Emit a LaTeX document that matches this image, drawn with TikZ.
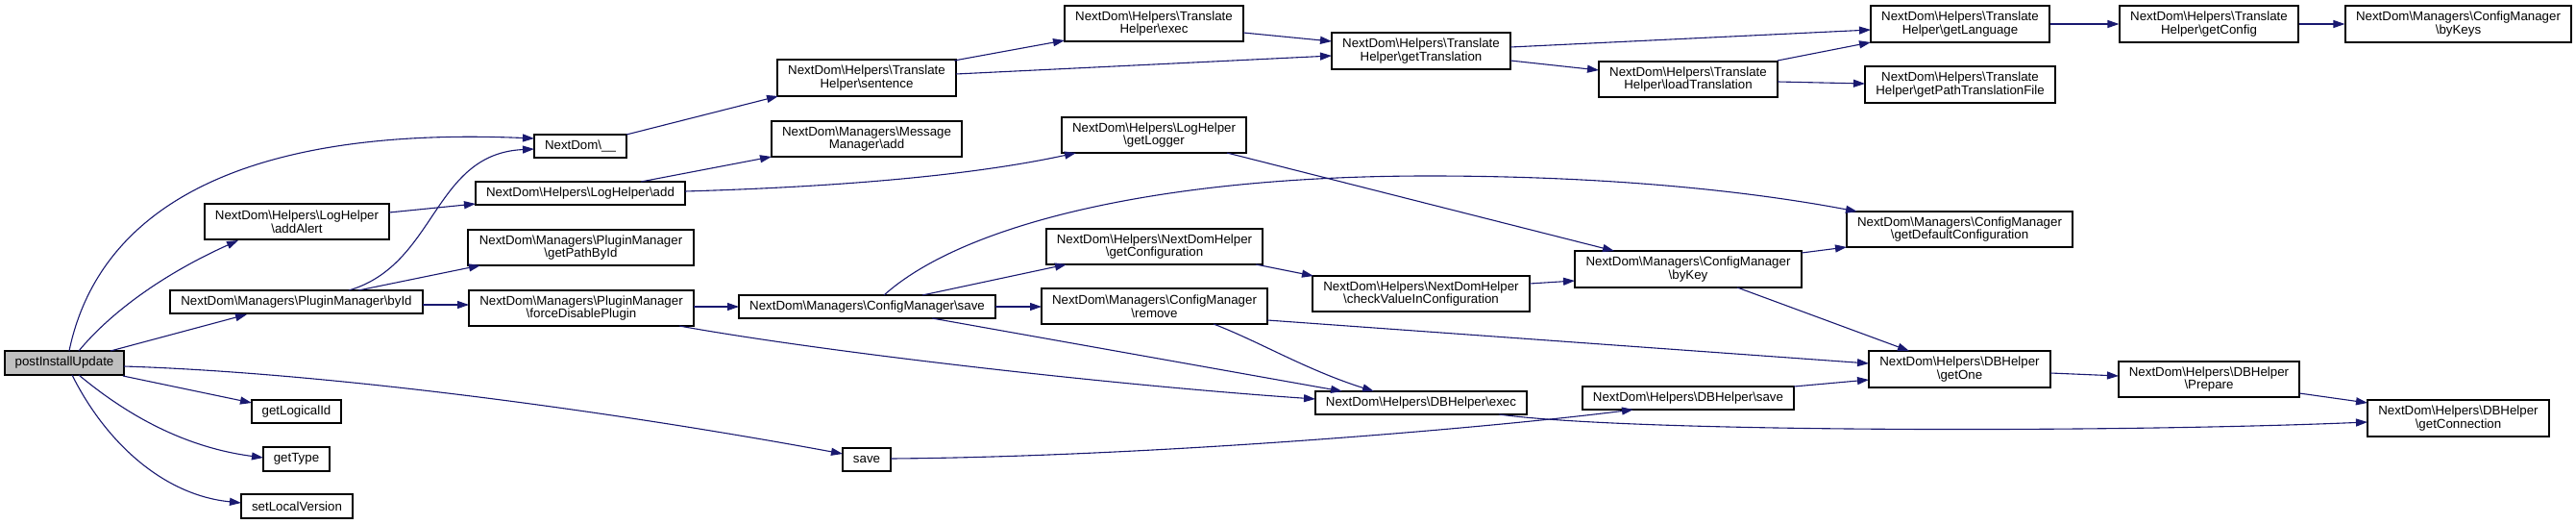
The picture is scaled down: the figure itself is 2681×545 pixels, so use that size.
\documentclass[tikz,border=0pt]{standalone}
\usepackage{fontspec}
\setmainfont{Liberation Sans}
\usetikzlibrary{arrows.meta}
\definecolor{edgecol}{HTML}{191970}
\definecolor{rootfill}{HTML}{BFBFBF}
\newcommand{\nbs}{\textbackslash}
\begin{document}
\begin{tikzpicture}[x=1pt,y=-1pt,
  box/.style={draw=black, fill=white, line width=1.1pt, inner sep=0pt, align=center,
    font=\fontsize{13.3}{13.6}\selectfont},
  sz/.style 2 args={minimum width=#1pt, minimum height=#2pt},
  cedge/.style={draw=edgecol, line width=1.1pt, -{Triangle[length=12pt,width=8pt]}}]
\useasboundingbox (0,0) rectangle (2681,545);

% column 0
\node[box,sz={124}{25},fill=rootfill] (post) at (67,377.5) {postInstallUpdate};
% column 1
\node[box,sz={192}{37}] (addAlert) at (309,230.5) {NextDom\nbs Helpers\nbs LogHelper\\\nbs addAlert};
\node[box,sz={263}{24}] (byId) at (308.5,314) {NextDom\nbs Managers\nbs PluginManager\nbs byId};
\node[box,sz={93}{24}] (logical) at (308.5,428) {getLogicalId};
\node[box,sz={69}{25}] (gettype) at (308.5,477.5) {getType};
\node[box,sz={116}{25}] (setlv) at (309,526.5) {setLocalVersion};
% column 2
\node[box,sz={96}{24}] (under) at (604,152) {NextDom\nbs\_\_};
\node[box,sz={218}{24}] (ladd) at (604,201) {NextDom\nbs Helpers\nbs LogHelper\nbs add};
\node[box,sz={235}{37}] (pathbyid) at (604.5,257.5) {NextDom\nbs Managers\nbs PluginManager\\\nbs getPathById};
\node[box,sz={234}{37}] (force) at (605,320.5) {NextDom\nbs Managers\nbs PluginManager\\\nbs forceDisablePlugin};
% column 3
\node[box,sz={186}{38}] (sentence) at (902,81) {NextDom\nbs Helpers\nbs Translate\\Helper\nbs sentence};
\node[box,sz={198}{37}] (msgadd) at (902,144.5) {NextDom\nbs Managers\nbs Message\\Manager\nbs add};
\node[box,sz={267}{24}] (cmsave) at (902.5,319) {NextDom\nbs Managers\nbs ConfigManager\nbs save};
\node[box,sz={50}{24}] (save) at (902,478) {save};
% column 4
\node[box,sz={186}{37}] (texec) at (1201,24.5) {NextDom\nbs Helpers\nbs Translate\\Helper\nbs exec};
\node[box,sz={192}{37}] (logger) at (1201,140.5) {NextDom\nbs Helpers\nbs LogHelper\\\nbs getLogger};
\node[box,sz={225}{37}] (getconf) at (1201.5,256.5) {NextDom\nbs Helpers\nbs NextDomHelper\\\nbs getConfiguration};
\node[box,sz={235}{37}] (remove) at (1201.5,318.5) {NextDom\nbs Managers\nbs ConfigManager\\\nbs remove};
% column 5
\node[box,sz={186}{38}] (gettrans) at (1479,53) {NextDom\nbs Helpers\nbs Translate\\Helper\nbs getTranslation};
\node[box,sz={226}{37}] (checkval) at (1479,305.5) {NextDom\nbs Helpers\nbs NextDomHelper\\\nbs checkValueInConfiguration};
\node[box,sz={220}{24}] (dbexec) at (1479,419) {NextDom\nbs Helpers\nbs DBHelper\nbs exec};
% column 6
\node[box,sz={186}{37}] (loadtrans) at (1757,82.5) {NextDom\nbs Helpers\nbs Translate\\Helper\nbs loadTranslation};
\node[box,sz={236}{38}] (bykey) at (1757,280) {NextDom\nbs Managers\nbs ConfigManager\\\nbs byKey};
\node[box,sz={220}{24}] (dbsave) at (1757,414) {NextDom\nbs Helpers\nbs DBHelper\nbs save};
% column 7
\node[box,sz={186}{38}] (getlang) at (2040,25) {NextDom\nbs Helpers\nbs Translate\\Helper\nbs getLanguage};
\node[box,sz={198}{38}] (pathtf) at (2040,88) {NextDom\nbs Helpers\nbs Translate\\Helper\nbs getPathTranslationFile};
\node[box,sz={235}{37}] (defconf) at (2039.5,238.5) {NextDom\nbs Managers\nbs ConfigManager\\\nbs getDefaultConfiguration};
\node[box,sz={189}{38}] (getone) at (2039.5,384) {NextDom\nbs Helpers\nbs DBHelper\\\nbs getOne};
% column 8
\node[box,sz={186}{38}] (getconfig) at (2299,25) {NextDom\nbs Helpers\nbs Translate\\Helper\nbs getConfig};
\node[box,sz={188}{37}] (prepare) at (2299,394.5) {NextDom\nbs Helpers\nbs DBHelper\\\nbs Prepare};
% column 9
\node[box,sz={235}{38}] (bykeys) at (2558.5,25) {NextDom\nbs Managers\nbs ConfigManager\\\nbs byKeys};
\node[box,sz={189}{38}] (getconn) at (2558.5,435) {NextDom\nbs Helpers\nbs DBHelper\\\nbs getConnection};

% edges
\draw[cedge] ([shift={(5,-12.5)}]post.center) .. controls (100,230) and (230,130) .. ([shift={(-48,-8)}]under.center);
\draw[cedge] ([shift={(15,-12.5)}]post.center) .. controls (115,325) and (170,285) .. ([shift={(-61,19.5)}]addAlert.center);
\draw[cedge] ([shift={(48,-12.5)}]post.center) -- ([shift={(-51.5,13)}]byId.center);
\draw[cedge] ([shift={(62,3.5)}]post.center) .. controls (350,388) and (650,430) .. ([shift={(-25,-6)}]save.center);
\draw[cedge] ([shift={(61,13.5)}]post.center) -- ([shift={(-46.5,-9)}]logical.center);
\draw[cedge] ([shift={(15,12.5)}]post.center) .. controls (130,430) and (190,465) .. ([shift={(-34.5,-1.5)}]gettype.center);
\draw[cedge] ([shift={(8,12.5)}]post.center) .. controls (110,460) and (170,515) .. ([shift={(-58,-3.5)}]setlv.center);
\draw[cedge] ([shift={(96,-9.5)}]addAlert.center) -- ([shift={(-109,11)}]ladd.center);
\draw[cedge] ([shift={(54.5,-12)}]byId.center) .. controls (455,275) and (450,160) .. ([shift={(-48,3)}]under.center);
\draw[cedge] ([shift={(64.5,-12)}]byId.center) -- ([shift={(-104.5,18.5)}]pathbyid.center);
\draw[cedge] ([shift={(131.5,3)}]byId.center) -- ([shift={(-117,-3.5)}]force.center);
\draw[cedge] ([shift={(48,-12)}]under.center) -- ([shift={(-92,19)}]sentence.center);
\draw[cedge] ([shift={(63,-12)}]ladd.center) -- ([shift={(-99,18.5)}]msgadd.center);
\draw[cedge] ([shift={(109,-2)}]ladd.center) .. controls (850,195) and (1000,185) .. ([shift={(-81,18.5)}]logger.center);
\draw[cedge] ([shift={(117,-1.5)}]force.center) -- ([shift={(-133.5,0)}]cmsave.center);
\draw[cedge] ([shift={(102,18.5)}]force.center) .. controls (850,365) and (1150,400) .. ([shift={(-110,-4)}]dbexec.center);
\draw[cedge] ([shift={(91,-18)}]sentence.center) -- ([shift={(-93,17.5)}]texec.center);
\draw[cedge] ([shift={(93,-4)}]sentence.center) -- ([shift={(-93,5)}]gettrans.center);
\draw[cedge] ([shift={(57.5,-12)}]cmsave.center) -- ([shift={(-91.5,18.5)}]getconf.center);
\draw[cedge] ([shift={(133.5,0)}]cmsave.center) -- ([shift={(-117.5,0.5)}]remove.center);
\draw[cedge] ([shift={(17.5,-12)}]cmsave.center) .. controls (1000,235) and (1200,183) .. (1487,183) .. controls (1650,183) and (1800,195) .. ([shift={(-106.5,-18.5)}]defconf.center);
\draw[cedge] ([shift={(67.5,12)}]cmsave.center) -- ([shift={(-82,-12)}]dbexec.center);
\draw[cedge] ([shift={(93,9.5)}]texec.center) -- ([shift={(-93,-10)}]gettrans.center);
\draw[cedge] ([shift={(76,18.5)}]logger.center) -- ([shift={(-77,-19)}]bykey.center);
\draw[cedge] ([shift={(105.5,18.5)}]getconf.center) -- ([shift={(-112,-18.5)}]checkval.center);
\draw[cedge] ([shift={(61.5,18.5)}]remove.center) .. controls (1310,355) and (1360,385) .. ([shift={(-49,-12)}]dbexec.center);
\draw[cedge] ([shift={(117.5,14.5)}]remove.center) -- ([shift={(-94.5,-6)}]getone.center);
\draw[cedge] ([shift={(93,-4)}]gettrans.center) -- ([shift={(-93,6)}]getlang.center);
\draw[cedge] ([shift={(93,10)}]gettrans.center) -- ([shift={(-93,-9.5)}]loadtrans.center);
\draw[cedge] ([shift={(113,-10.5)}]checkval.center) -- ([shift={(-118,12)}]bykey.center);
\draw[cedge] ([shift={(81,12)}]dbexec.center) .. controls (1700,450) and (2200,450) .. ([shift={(-94.5,4)}]getconn.center);
\draw[cedge] ([shift={(25,-1)}]save.center) .. controls (1200,475) and (1550,445) .. ([shift={(-57,12)}]dbsave.center);
\draw[cedge] ([shift={(93,-19.5)}]loadtrans.center) -- ([shift={(-93,19)}]getlang.center);
\draw[cedge] ([shift={(93,2.5)}]loadtrans.center) -- ([shift={(-99,-1)}]pathtf.center);
\draw[cedge] ([shift={(118,-17)}]bykey.center) -- ([shift={(-117.5,18.5)}]defconf.center);
\draw[cedge] ([shift={(51,19)}]bykey.center) -- ([shift={(-52.5,-19)}]getone.center);
\draw[cedge] ([shift={(110,-12)}]dbsave.center) -- ([shift={(-94.5,11)}]getone.center);
\draw[cedge] (getlang.east) -- (getconfig.west);
\draw[cedge] (getconfig.east) -- (bykeys.west);
\draw[cedge] ([shift={(94.5,4)}]getone.center) -- ([shift={(-94,-3.5)}]prepare.center);
\draw[cedge] ([shift={(94,14.5)}]prepare.center) -- ([shift={(-94.5,-16)}]getconn.center);
\end{tikzpicture}
\end{document}
